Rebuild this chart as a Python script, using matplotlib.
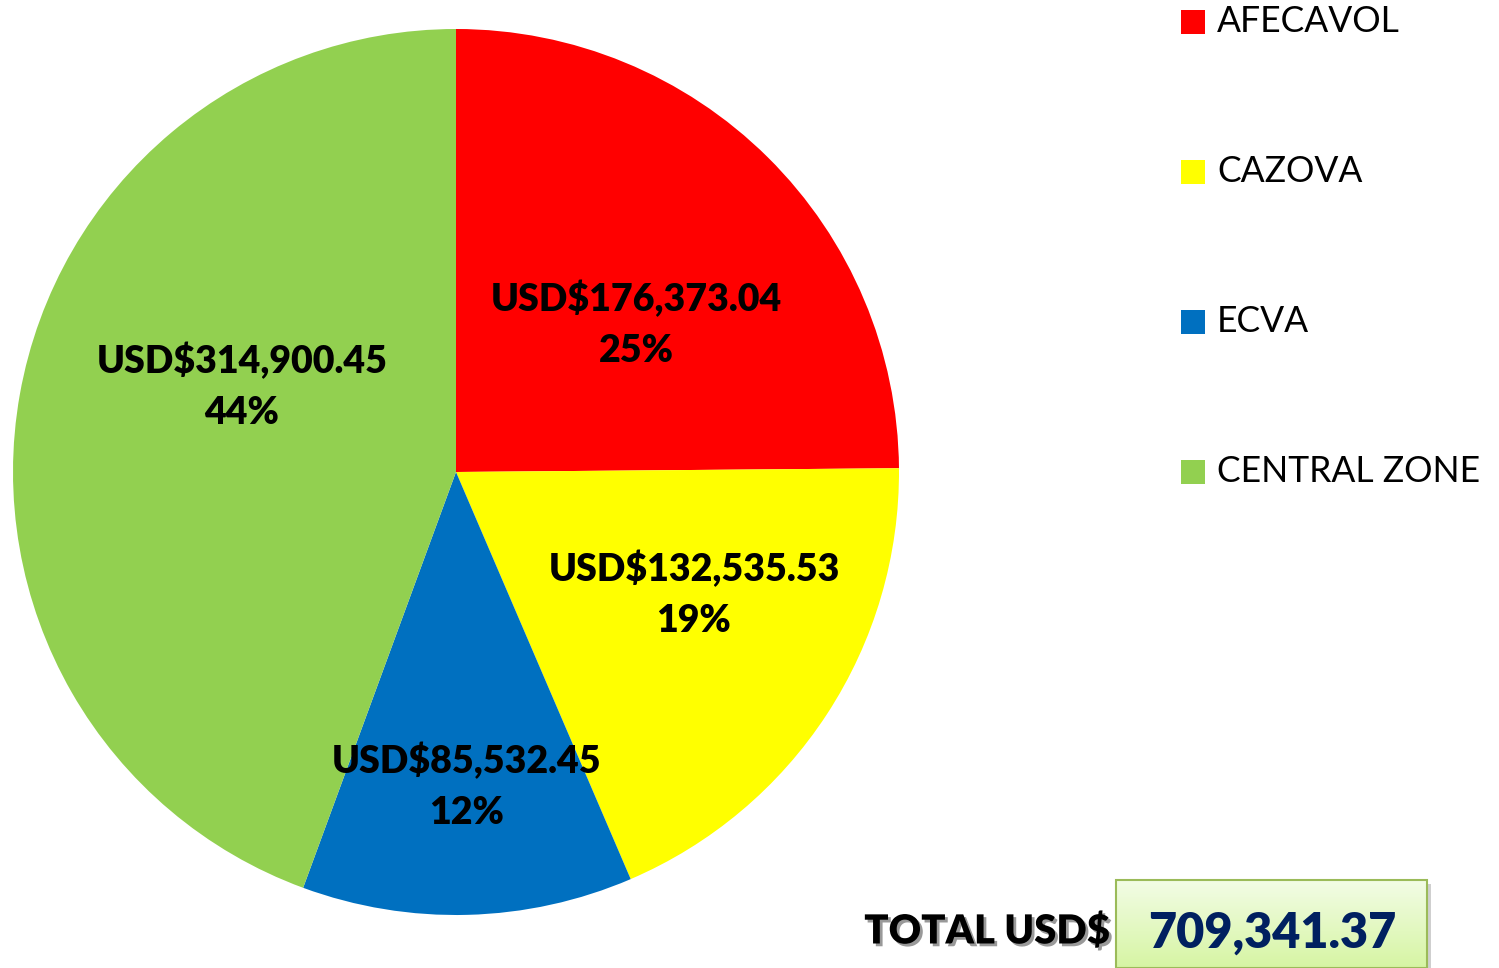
import matplotlib
matplotlib.use("Agg")
import matplotlib.pyplot as plt
import matplotlib.patheffects as pe
import numpy as np
from matplotlib.patches import Rectangle

# data
groups = ["AFECAVOL", "CAZOVA", "ECVA", "CENTRAL ZONE"]
amounts = [176373.04, 132535.53, 85532.45, 314900.45]
total = 709341.37
colors = ["#FF0000", "#FFFF00", "#0070C0", "#92D050"]

W, H = 1499, 968
fig = plt.figure(figsize=(W / 100, H / 100), dpi=100)
ax = fig.add_axes([0, 0, 1, 1])
ax.set_xlim(0, W)
ax.set_ylim(0, H)
ax.set_aspect("equal")
ax.axis("off")

FONT = "Lato"

wedges, _ = ax.pie(amounts, colors=colors, startangle=90, counterclock=False,
                   center=(456, H - 472), radius=443,
                   wedgeprops=dict(linewidth=0))
ax.set_xlim(0, W)
ax.set_ylim(0, H)

# label anchors (pixel layout, top-left origin)
label_pos = [(636, 324), (694, 594), (467, 786), (242, 386)]
for amt, (x, y) in zip(amounts, label_pos):
    pct = round(amt / sum(amounts) * 100)
    ax.text(x, H - y, f"USD${amt:,.2f}\n{pct}%", ha="center", va="center",
            fontsize=27, fontweight="heavy", family=FONT, linespacing=1.62)

# legend
for i, (g, c) in enumerate(zip(groups, colors)):
    y = H - (22 + 150 * i)
    ax.add_patch(Rectangle((1181, y - 12), 24, 24, facecolor=c, edgecolor="none"))
    ax.text(1217, y, g, ha="left", va="center", fontsize=25.6, family=FONT)

# total box with gradient
bx, by, bw, bh = 1116, 0, 311, H - 880
ax.add_patch(Rectangle((bx + 4, by - 4), bw, bh, facecolor="#00000030",
                       edgecolor="none", zorder=2))
grad = np.linspace(0, 1, 100).reshape(-1, 1)
top = np.array([0.95, 0.99, 0.90])
bot = np.array([0.84, 0.96, 0.64])
img = top * (1 - grad[..., None]) + bot * grad[..., None]
img = img.reshape(100, 1, 3)
ax.imshow(img, extent=(bx, bx + bw, by, by + bh), origin="upper",
          aspect="auto", zorder=3)
ax.add_patch(Rectangle((bx, by), bw, bh, facecolor="none",
                       edgecolor="#9BBB59", linewidth=1.5, zorder=4))
ax.set_xlim(0, W)
ax.set_ylim(0, H)

ax.text(1272, H - 933, f"{total:,.2f}", ha="center", va="center",
        fontsize=35, fontweight="heavy", family=FONT, color="#002060", zorder=5)
ax.text(1110, H - 932, "TOTAL USD$", ha="right", va="center", fontsize=28.8,
        fontweight="heavy", family=FONT, color="black", zorder=5,
        path_effects=[pe.SimplePatchShadow(offset=(2, -2), alpha=0.4), pe.Normal()])

fig.savefig("out.png", dpi=100)
